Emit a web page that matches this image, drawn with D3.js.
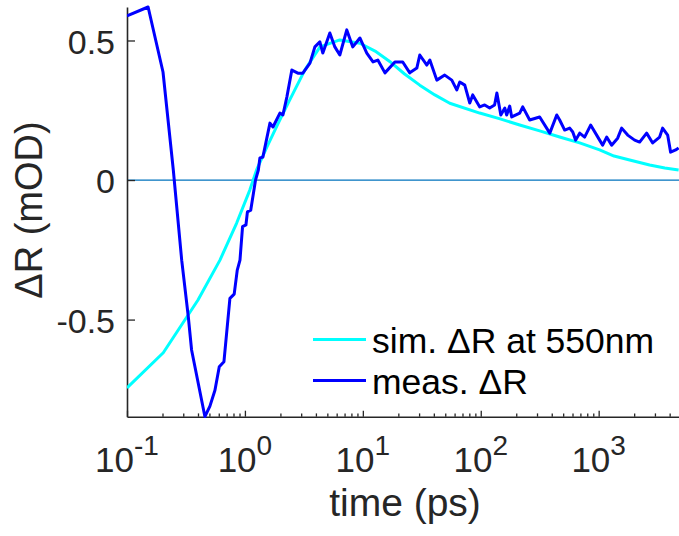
<!DOCTYPE html>
<html>
<head>
<meta charset="utf-8">
<script src="https://cdn.jsdelivr.net/npm/d3@7"></script>
<style>
  body { margin: 0; background: #fff; }
  svg { display: block; font-family: "Liberation Sans", Arial, Helvetica, sans-serif; }
</style>
</head>
<body>
<div id="chart"></div>
<script>
// simulated dR at 550nm (time in ps, dR in mOD)
const simTime = [0.1, 0.203, 0.40, 0.614, 0.851, 1.10, 1.256, 1.535, 1.9, 2.40, 3.22, 4.33, 6.38, 9.45,
  12.7, 16.9, 22.6, 30.4, 40.8, 54.6, 98, 146, 214, 316, 467, 690, 1019, 1350, 1832, 2704, 3640, 4764];
const simValue = [-0.745, -0.619, -0.43, -0.287, -0.154, -0.036, 0.036, 0.118, 0.2, 0.287, 0.394, 0.477, 0.502, 0.49,
  0.462, 0.425, 0.38, 0.34, 0.305, 0.275, 0.24, 0.219, 0.197, 0.176, 0.154, 0.133, 0.108, 0.086, 0.072, 0.054, 0.043, 0.036];

// measured dR
const measTime = [0.1, 0.151, 0.202, 0.247, 0.291, 0.331, 0.353, 0.458, 0.505, 0.557, 0.606, 0.664, 0.746, 0.811,
  0.861, 0.908, 0.955, 1.02, 1.05, 1.12, 1.18, 1.23, 1.30, 1.34, 1.42, 1.63, 1.73, 1.98, 2.10, 2.27, 2.50,
  2.81, 3.10, 3.56, 3.92, 4.32, 4.58, 5.25, 5.79, 6.38, 7.31, 8.22, 9.44, 10.8, 12.2, 13.4, 15.4, 18.7,
  21.8, 25.0, 28.7, 30.4, 34.9, 37.0, 42.4, 49.5, 56.8, 62.6, 66.4, 73.2, 80.7, 85.5, 98.1, 108, 119,
  131, 137, 148, 160, 166, 176, 183, 214, 227, 260, 316, 385, 441, 467, 515, 568, 603, 638, 690, 760,
  855, 1019, 1081, 1169, 1288, 1449, 1567, 1762, 2018, 2225, 2551, 2870, 3289, 3484, 3846, 4074, 4498, 4764];
const measValue = [0.588, 0.62, 0.387, 0.036, -0.287, -0.49, -0.609, -0.848, -0.81, -0.753, -0.669, -0.651, -0.424, -0.409,
  -0.323, -0.287, -0.167, -0.161, -0.114, -0.108, -0.048, 0.0, 0.036, 0.079, 0.082, 0.204, 0.19, 0.24, 0.233, 0.298, 0.394,
  0.383, 0.383, 0.419, 0.477, 0.495, 0.455, 0.527, 0.477, 0.448, 0.538, 0.477, 0.509, 0.455, 0.423, 0.43, 0.384, 0.423,
  0.423, 0.384, 0.401, 0.448, 0.412, 0.43, 0.358, 0.376, 0.358, 0.323, 0.351, 0.34, 0.276, 0.305, 0.262, 0.269, 0.258,
  0.269, 0.312, 0.233, 0.258, 0.233, 0.265, 0.226, 0.24, 0.262, 0.215, 0.226, 0.168, 0.233, 0.215, 0.179, 0.186, 0.172, 0.143, 0.168, 0.154,
  0.197, 0.143, 0.125, 0.154, 0.125, 0.15, 0.186, 0.161, 0.143, 0.136, 0.168, 0.133, 0.154, 0.186, 0.161, 0.1, 0.108, 0.115];

const xMajor = [0.1, 1, 10, 100, 1000];
const xExp = ["-1", "0", "1", "2", "3"];
const yTicks = [-0.5, 0, 0.5];
const yTickLabels = ["-0.5", "0", "0.5"];
const legendLabels = ["sim. \u0394R at 550nm", "meas. \u0394R"];
const legendColors = ["#00ffff", "#0000ff"];

const W = 679, H = 536;
const svg = d3.select("#chart").append("svg").attr("width", W).attr("height", H);

const x = d3.scaleLog().domain([0.1, 4800]).range([127, 679]);
const y = d3.scaleLinear().domain([-0.848, 0.62]).range([416.7, 7]);
const axisColor = "#262626";

svg.append("clipPath").attr("id", "clip")
  .append("rect").attr("x", 127).attr("y", 5).attr("width", W - 127).attr("height", 413);

// zero line
svg.append("line")
  .attr("x1", x(0.1)).attr("x2", x(4800))
  .attr("y1", y(0)).attr("y2", y(0))
  .attr("stroke", "#0072BD").attr("stroke-width", 1.2);

// minor ticks on log axis
const xMinor = [];
for (let e = -1; e <= 3; e++) {
  for (let m = 2; m <= 9; m++) {
    const v = m * Math.pow(10, e);
    if (v < 4800) xMinor.push(v);
  }
}
const gMinor = svg.append("g")
  .attr("transform", `translate(0,${y.range()[0]})`)
  .call(d3.axisBottom(x).tickValues(xMinor).tickSize(-3.3).tickSizeOuter(0).tickFormat(""));
gMinor.select(".domain").remove();

const gx = svg.append("g")
  .attr("transform", `translate(0,${y.range()[0]})`)
  .call(d3.axisBottom(x).tickValues(xMajor).tickSize(-6).tickSizeOuter(0).tickFormat(""));

[gMinor, gx].forEach(g => {
  g.selectAll("line").attr("stroke", axisColor).attr("stroke-width", 1.3);
  g.selectAll(".domain").attr("stroke", axisColor).attr("stroke-width", 1.6);
});

// x tick labels with superscript exponent
const xl = svg.append("g").selectAll("text")
  .data(xMajor)
  .join("text")
  .attr("x", d => x(d))
  .attr("y", 471.5)
  .attr("text-anchor", "middle")
  .attr("fill", axisColor)
  .attr("font-size", 35);
xl.append("tspan").text("10");
xl.append("tspan").attr("font-size", 28).attr("dy", -16.5).text((d, i) => xExp[i]);

// y axis
const gy = svg.append("g")
  .attr("transform", `translate(${x.range()[0]},0)`)
  .call(d3.axisLeft(y).tickValues(yTicks).tickSize(-8).tickSizeOuter(0).tickPadding(12)
    .tickFormat((d, i) => yTickLabels[i]));
gy.selectAll("line").attr("stroke", axisColor).attr("stroke-width", 1.3);
gy.select(".domain").attr("stroke", axisColor).attr("stroke-width", 1.6);
gy.selectAll("text").attr("font-size", 34).attr("fill", axisColor)
  .attr("font-family", "Liberation Sans, Arial, sans-serif").attr("dy", "0.38em");

// lines
const line = d3.line().x(d => x(d[0])).y(d => y(d[1]));
const plot = svg.append("g").attr("clip-path", "url(#clip)");
plot.append("path")
  .datum(d3.zip(simTime, simValue))
  .attr("fill", "none").attr("stroke", legendColors[0]).attr("stroke-width", 3)
  .attr("stroke-linejoin", "round")
  .attr("d", line);
plot.append("path")
  .datum(d3.zip(measTime, measValue))
  .attr("fill", "none").attr("stroke", legendColors[1]).attr("stroke-width", 3)
  .attr("stroke-linejoin", "round")
  .attr("d", line);

// axis labels
svg.append("text")
  .attr("x", 405).attr("y", 516)
  .attr("text-anchor", "middle").attr("fill", axisColor).attr("font-size", 39)
  .text("time (ps)");
svg.append("text")
  .attr("transform", "translate(42,210) rotate(-90)")
  .attr("text-anchor", "middle").attr("fill", axisColor).attr("font-size", 38)
  .text("\u0394R (mOD)");

// legend
const lg = svg.append("g").selectAll("g")
  .data(legendLabels)
  .join("g")
  .attr("transform", (d, i) => `translate(313,${339.5 + i * 41})`);
lg.append("line")
  .attr("x1", 0).attr("x2", 53)
  .attr("stroke", (d, i) => legendColors[i]).attr("stroke-width", 3);
lg.append("text")
  .attr("x", 59).attr("dy", 13)
  .attr("font-size", 35.5).attr("fill", "#000")
  .text(d => d);
</script>
</body>
</html>
